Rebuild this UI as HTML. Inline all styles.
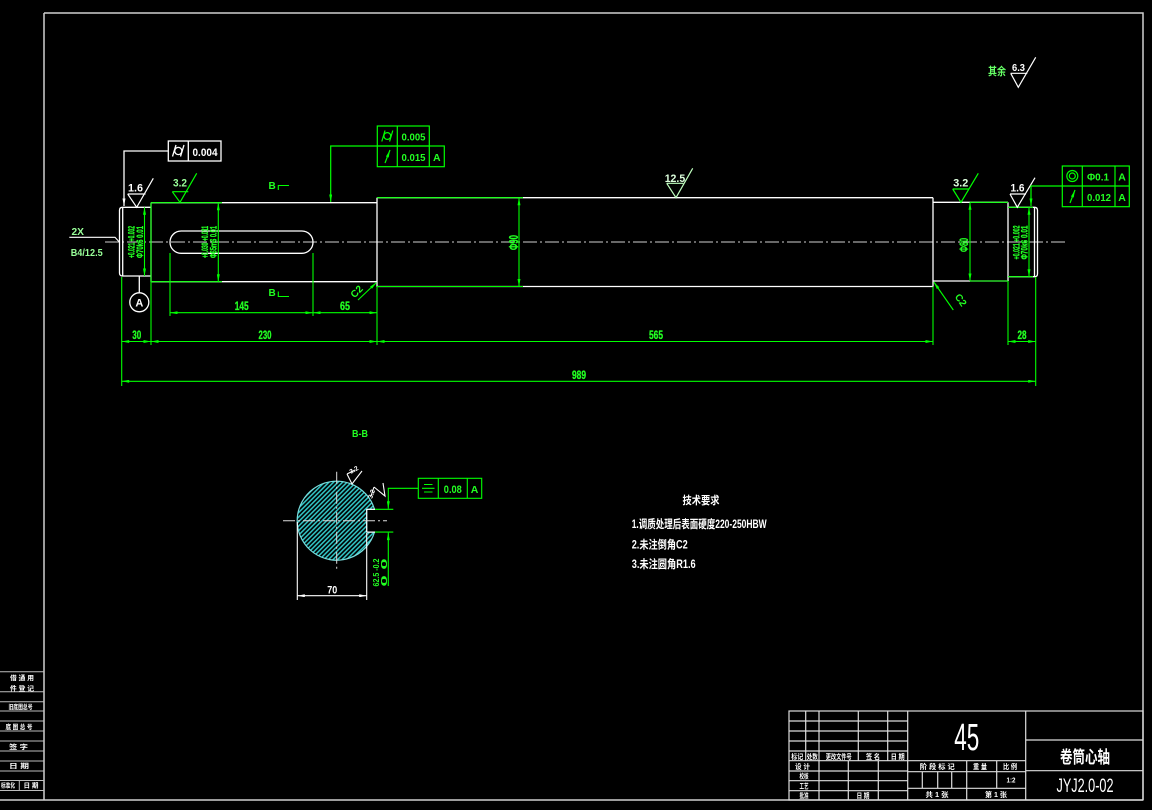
<!DOCTYPE html>
<html><head><meta charset="utf-8">
<style>
html,body{margin:0;padding:0;background:#000;}
svg{display:block;}
text{font-family:"Liberation Sans","Noto Sans CJK SC",sans-serif;}
.s{font-family:"Liberation Serif","Noto Serif CJK SC",serif;}
</style></head><body>
<svg width="1152" height="810" viewBox="0 0 1152 810" xmlns="http://www.w3.org/2000/svg">
<defs>
<marker id="g" viewBox="0 0 10 4" refX="10" refY="2" markerWidth="8" markerHeight="3" orient="auto-start-reverse" markerUnits="userSpaceOnUse"><path d="M0,0L10,2L0,4z" fill="#0f0"/></marker>
<marker id="w" viewBox="0 0 10 4" refX="10" refY="2" markerWidth="8" markerHeight="3" orient="auto-start-reverse" markerUnits="userSpaceOnUse"><path d="M0,0L10,2L0,4z" fill="#fff"/></marker>
<pattern id="h" width="3.2" height="3.2" patternUnits="userSpaceOnUse" patternTransform="rotate(45)"><rect width="3.2" height="3.2" fill="#000"/><line x1="0.8" y1="0" x2="0.8" y2="3.2" stroke="#3cc" stroke-width="1.5"/></pattern>
</defs>
<rect width="1152" height="810" fill="#000"/>

<!-- frame -->
<g stroke="#cfcfcf" stroke-width="1.5" fill="none">
<path d="M44,13H1143V800"/>
<path d="M44,13V800"/>
<path d="M0,800H1143"/>
</g>

<!-- left side table -->
<g stroke="#bdbdbd" stroke-width="1" fill="none">
<path d="M0,671.7H44M0,691.7H44M0,701.7H44M0,711H44M0,721H44M0,731H44M0,741H44M0,751H44M0,761H44M0,771H44M0,780.5H44M0,790.5H44M19.3,780.5V790.5"/>
</g>
<g fill="#fff" font-size="6.5" font-weight="bold" text-anchor="middle">
<text x="22" y="680" textLength="24" lengthAdjust="spacingAndGlyphs">借 通 用</text>
<text x="22" y="690.3" textLength="24" lengthAdjust="spacingAndGlyphs">件 登 记</text>
<text x="20.5" y="709" textLength="24" lengthAdjust="spacingAndGlyphs">旧底图总号</text>
<text x="19" y="729" textLength="27" lengthAdjust="spacingAndGlyphs">底 图 总 号</text>
<text x="18.5" y="749" textLength="19" lengthAdjust="spacingAndGlyphs">签 字</text>
<text x="19" y="768" textLength="20" lengthAdjust="spacingAndGlyphs">日 期</text>
<text x="8" y="787.5" textLength="14" lengthAdjust="spacingAndGlyphs">标准化</text>
<text x="31" y="787.5" textLength="15" lengthAdjust="spacingAndGlyphs">日 期</text>
</g>

<!-- centerline -->
<line x1="105" y1="242" x2="1065" y2="242" stroke="#cfcfcf" stroke-width="1" stroke-dasharray="14 3 2 3"/>

<!-- shaft outline -->
<g stroke="#fff" stroke-width="1.3" fill="none">
<path d="M122.5,207.3Q119.5,207.3 119.5,210.3V273Q119.5,276 122.5,276"/>
<path d="M122.7,207.3V276"/>
<path d="M122.5,207.3H151M122.5,276H151"/>
<path d="M151,202.7V281.7"/>
<path d="M151,202.7H377M151,281.7H377"/>
<path d="M377,197.7V286.5"/>
<path d="M377,197.7H933M377,286.5H933"/>
<path d="M933,197.7V286.5"/>
<path d="M933,202.3H1008M933,281H1008"/>
<path d="M1008,202.3V281"/>
<path d="M1008,207.3H1034.5M1008,276.7H1034.5"/>
<path d="M1034.5,207.3Q1037.5,207.3 1037.5,210.3V273.7Q1037.5,276.7 1034.5,276.7"/>
<path d="M1034.5,207.3V276.7"/>
<rect x="170" y="231" width="143" height="22.3" rx="11.1"/>
</g>

<!-- green overlays / extension lines -->
<g stroke="#0f0" stroke-width="1.1" fill="none">
<path d="M151,202.7H222M151,281.7H222"/>
<path d="M377,197.7H523M377,286.5H523"/>
<path d="M970,202.3H1008M970,281H1008"/>
<path d="M1008,207.3H1033M1008,276.7H1033"/>
<path d="M121.7,277V386M151,202.7V345M377,286.5V345M933,286.5V345M1008,281V345M1035.7,277V386"/>
<path d="M170,253V316M313,253V316"/>
</g>

<!-- vertical dims -->
<g stroke="#0f0" stroke-width="1.1" fill="none">
<line x1="144.5" y1="207.3" x2="144.5" y2="276" marker-start="url(#g)" marker-end="url(#g)"/>
<line x1="218.3" y1="202.7" x2="218.3" y2="281.7" marker-start="url(#g)" marker-end="url(#g)"/>
<line x1="519" y1="197.7" x2="519" y2="286.5" marker-start="url(#g)" marker-end="url(#g)"/>
<line x1="970" y1="202.3" x2="970" y2="281" marker-start="url(#g)" marker-end="url(#g)"/>
<line x1="1029" y1="207.3" x2="1029" y2="276.7" marker-start="url(#g)" marker-end="url(#g)"/>
</g>
<g fill="#2f2" font-weight="bold" text-anchor="middle" stroke="#2f2" stroke-width="0.3">
<text transform="translate(134.5,242) rotate(-90)" font-size="9" textLength="32" lengthAdjust="spacingAndGlyphs">+0.021 +0.002</text>
<text transform="translate(143,242) rotate(-90)" font-size="9.5" textLength="32" lengthAdjust="spacingAndGlyphs">Φ70k6 0.01</text>
<text transform="translate(208,242) rotate(-90)" font-size="9" textLength="32" lengthAdjust="spacingAndGlyphs">+0.030 +0.011</text>
<text transform="translate(216.5,242) rotate(-90)" font-size="9.5" textLength="32" lengthAdjust="spacingAndGlyphs">Φ65m6 0.01</text>
<text transform="translate(518,242.5) rotate(-90)" font-size="13" textLength="15" lengthAdjust="spacingAndGlyphs">Φ90</text>
<text transform="translate(968,245) rotate(-90)" font-size="12" textLength="14" lengthAdjust="spacingAndGlyphs">Φ80</text>
<text transform="translate(1019.5,242.5) rotate(-90)" font-size="9" textLength="34" lengthAdjust="spacingAndGlyphs">+0.021 +0.002</text>
<text transform="translate(1027.5,242.5) rotate(-90)" font-size="9.5" textLength="34" lengthAdjust="spacingAndGlyphs">Φ70k6 0.01</text>
</g>

<!-- horizontal dims -->
<g stroke="#0f0" stroke-width="1.1" fill="none">
<line x1="170" y1="312.7" x2="313" y2="312.7" marker-start="url(#g)" marker-end="url(#g)"/>
<line x1="313" y1="312.7" x2="377" y2="312.7" marker-start="url(#g)" marker-end="url(#g)"/>
<line x1="121.7" y1="341.5" x2="151" y2="341.5" marker-start="url(#g)" marker-end="url(#g)"/>
<line x1="151" y1="341.5" x2="377" y2="341.5" marker-start="url(#g)" marker-end="url(#g)"/>
<line x1="377" y1="341.5" x2="933" y2="341.5" marker-start="url(#g)" marker-end="url(#g)"/>
<line x1="1008" y1="341.5" x2="1035.7" y2="341.5" marker-start="url(#g)" marker-end="url(#g)"/>
<line x1="121.7" y1="381.3" x2="1035.7" y2="381.3" marker-start="url(#g)" marker-end="url(#g)"/>
</g>
<g fill="#2f2" font-weight="bold" text-anchor="middle" font-size="12" stroke="#2f2" stroke-width="0.3">
<text x="241.7" y="310" textLength="14" lengthAdjust="spacingAndGlyphs">145</text>
<text x="345" y="310" textLength="10" lengthAdjust="spacingAndGlyphs">65</text>
<text x="136.7" y="339" textLength="9" lengthAdjust="spacingAndGlyphs">30</text>
<text x="265" y="339" textLength="13" lengthAdjust="spacingAndGlyphs">230</text>
<text x="656" y="339" textLength="14" lengthAdjust="spacingAndGlyphs">565</text>
<text x="1022" y="339" textLength="9" lengthAdjust="spacingAndGlyphs">28</text>
<text x="579" y="379" textLength="14" lengthAdjust="spacingAndGlyphs">989</text>
</g>

<!-- chamfer C2 leaders -->
<g stroke="#0f0" stroke-width="1.1" fill="none">
<line x1="358" y1="300" x2="376.5" y2="282.5" marker-end="url(#g)"/>
<line x1="953.3" y1="310" x2="933.8" y2="282" marker-end="url(#g)"/>
</g>
<g fill="#2f2" font-weight="bold" text-anchor="middle" font-size="10">
<text transform="translate(359,294) rotate(-45)">C2</text>
<text transform="translate(958,302) rotate(55)">C2</text>
</g>

<!-- section marks B -->
<g fill="#2f2" font-size="10" font-weight="bold">
<text x="268.5" y="189">B</text>
<text x="268.5" y="296">B</text>
</g>
<g stroke="#0f0" stroke-width="1.1" fill="none">
<path d="M278.3,190V185.5H289"/>
<path d="M278.3,291.5V296.5H289"/>
</g>

<!-- 2X B4/12.5 -->
<g fill="#9f9" font-size="10" font-weight="bold">
<text x="71.5" y="235" textLength="12.5" lengthAdjust="spacingAndGlyphs">2X</text>
<text x="70.7" y="256" textLength="32" lengthAdjust="spacingAndGlyphs">B4/12.5</text>
</g>
<path d="M69.3,237.3H115L119.3,242" stroke="#fff" stroke-width="1.1" fill="none"/>

<!-- datum A -->
<g stroke="#fff" stroke-width="1.3" fill="none">
<line x1="139.3" y1="276" x2="139.3" y2="292.8"/>
<circle cx="139.3" cy="302.3" r="9.5"/>
</g>
<text x="139.3" y="306.5" fill="#fff" font-size="11" font-weight="bold" text-anchor="middle">A</text>

<!-- roughness symbols -->
<g stroke="#fff" stroke-width="1.2" fill="none">
<path d="M127.7,194H145.5M127.7,194L136.7,207.3L153.3,178.3"/>
<path d="M1010,194H1026M1010,194L1017.3,207.3L1035,177.7"/>
<path d="M1010.7,73.3H1027.3M1010.7,73.3L1018.3,87.3L1035.7,57.3"/>
</g>
<g stroke="#0f0" stroke-width="1.2" fill="none">
<path d="M172.3,191.7H188.3M172.3,191.7L180,202.3L196.7,173.3"/>
<path d="M952.7,189H969M952.7,189L961,202.3L978.3,173.3"/>
</g>
<g stroke="#bfffbf" stroke-width="1.2" fill="none">
<path d="M666.7,183.3H683.3M666.7,183.3L676,197.7L692.7,168.3"/>
</g>
<g font-size="11" font-weight="bold">
<text x="128" y="191.5" fill="#fff" textLength="15" lengthAdjust="spacingAndGlyphs">1.6</text>
<text x="173" y="186.5" fill="#9f9" textLength="14" lengthAdjust="spacingAndGlyphs">3.2</text>
<text x="664.7" y="182" fill="#dfd" textLength="20.5" lengthAdjust="spacingAndGlyphs">12.5</text>
<text x="953.3" y="186.5" fill="#dfd" textLength="15" lengthAdjust="spacingAndGlyphs">3.2</text>
<text x="1010.5" y="191.5" fill="#fff" textLength="14" lengthAdjust="spacingAndGlyphs">1.6</text>
<text x="1012" y="71" fill="#fff" font-size="10" textLength="13" lengthAdjust="spacingAndGlyphs">6.3</text>
<text x="988" y="75" fill="#6f6" font-size="11" textLength="18" lengthAdjust="spacingAndGlyphs">其余</text>
</g>

<!-- GD&T frame 1 (white) -->
<g stroke="#fff" stroke-width="1.3" fill="none">
<rect x="168.3" y="141" width="52.7" height="20"/>
<line x1="188.3" y1="141" x2="188.3" y2="161"/>
<circle cx="178.3" cy="151" r="3.6"/>
<path d="M172.5,156.5L176,145M180.5,156.5L184,145"/>
<path d="M168.3,151H124V206" marker-end="url(#w)"/>
</g>
<text x="192.5" y="155.8" fill="#fff" font-size="11" font-weight="bold" textLength="25" lengthAdjust="spacingAndGlyphs">0.004</text>

<!-- GD&T frame 2 (green) -->
<g stroke="#0f0" stroke-width="1.2" fill="none">
<rect x="377.3" y="126" width="52" height="20"/>
<rect x="377.3" y="146" width="67" height="20.7"/>
<line x1="397.3" y1="126" x2="397.3" y2="166.7"/>
<line x1="429.3" y1="146" x2="429.3" y2="166.7"/>
<circle cx="387.3" cy="136" r="3.4"/>
<path d="M381.8,141.5L385,130.5M389.6,141.5L392.8,130.5"/>
<line x1="385" y1="163" x2="390" y2="150" marker-end="url(#g)"/>
<path d="M377.3,146H330.7V202" marker-end="url(#g)"/>
</g>
<g fill="#2f2" font-size="10.5" font-weight="bold">
<text x="401.5" y="140.5" textLength="24" lengthAdjust="spacingAndGlyphs">0.005</text>
<text x="401.5" y="161" textLength="24" lengthAdjust="spacingAndGlyphs">0.015</text>
<text x="436.8" y="161" text-anchor="middle">A</text>
</g>

<!-- GD&T frame 3 (green, right) -->
<g stroke="#0f0" stroke-width="1.2" fill="none">
<rect x="1062.3" y="166" width="67" height="40.7"/>
<line x1="1062.3" y1="186" x2="1129.3" y2="186"/>
<line x1="1082.3" y1="166" x2="1082.3" y2="206.7"/>
<line x1="1115" y1="166" x2="1115" y2="206.7"/>
<circle cx="1072.3" cy="176" r="5.5"/>
<circle cx="1072.3" cy="176" r="3"/>
<line x1="1070" y1="203" x2="1075" y2="190" marker-end="url(#g)"/>
<path d="M1062.3,186H1031V206" marker-end="url(#g)"/>
</g>
<g fill="#2f2" font-size="10.5" font-weight="bold">
<text x="1087" y="180.5" textLength="22" lengthAdjust="spacingAndGlyphs">Φ0.1</text>
<text x="1087" y="201" textLength="24" lengthAdjust="spacingAndGlyphs">0.012</text>
<text x="1122" y="180.5" text-anchor="middle">A</text>
<text x="1122" y="201" text-anchor="middle">A</text>
</g>

<!-- Section B-B -->
<text x="360" y="437" fill="#2f2" font-size="10" font-weight="bold" text-anchor="middle" textLength="16" lengthAdjust="spacingAndGlyphs">B-B</text>
<path d="M366.7,509.3L374.5,509.3A39.5,39.5 0 1 0 374.5,532.1L366.7,532.1Z" fill="url(#h)" stroke="#7dd" stroke-width="1.2"/>
<g stroke="#fff" stroke-width="1.1" fill="none">
<path d="M366.7,509.3H375M366.7,532.1H375M366.7,509.3V532.1"/>
</g>
<g stroke="#ddd" stroke-width="1" fill="none" stroke-dasharray="12 3 2 3">
<line x1="283" y1="520.7" x2="387" y2="520.7"/>
<line x1="336.7" y1="471.7" x2="336.7" y2="570"/>
</g>
<!-- 70 dim -->
<g stroke="#fff" stroke-width="1.1" fill="none">
<line x1="297.3" y1="522" x2="297.3" y2="600"/>
<line x1="366.7" y1="533" x2="366.7" y2="600"/>
<line x1="297.3" y1="595.7" x2="366.7" y2="595.7" marker-start="url(#w)" marker-end="url(#w)"/>
</g>
<text x="332.3" y="593.5" fill="#fff" font-size="11" font-weight="bold" text-anchor="middle" textLength="10" lengthAdjust="spacingAndGlyphs">70</text>
<!-- keyway depth dim -->
<g stroke="#0f0" stroke-width="1.1" fill="none">
<path d="M375,509.3H393.3M375,532.1H393.3"/>
<line x1="388.3" y1="586" x2="388.3" y2="532.6" marker-end="url(#g)"/>
<path d="M418.3,488.3H388.3V508.8" marker-end="url(#g)"/>
<rect x="418.3" y="478.3" width="63.4" height="20"/>
<line x1="438.3" y1="478.3" x2="438.3" y2="498.3"/>
<line x1="467.3" y1="478.3" x2="467.3" y2="498.3"/>
<path d="M424,484.5H432.5M422,488.3H434.5M424,492H432.5"/>
</g>
<g fill="#2f2" font-weight="bold">
<text x="452.8" y="492.8" font-size="11" text-anchor="middle" textLength="18" lengthAdjust="spacingAndGlyphs">0.08</text>
<text x="474.5" y="492.8" font-size="10.5" text-anchor="middle">A</text>
<text transform="translate(379,572.5) rotate(-90)" font-size="8.5" text-anchor="middle" textLength="28" lengthAdjust="spacingAndGlyphs">62.5 -0.2</text>
<text transform="translate(387,572.5) rotate(-90)" font-size="8.5" text-anchor="middle" textLength="28" lengthAdjust="spacingAndGlyphs">0 0</text>
</g>
<!-- small roughness in section -->
<g stroke="#fff" stroke-width="1.1" fill="none">
<path d="M347,474L352,484L362,471M347,474L355,470"/>
<path d="M374,487L385,496L383,483M374,487L371,496"/>
</g>
<g fill="#fff" font-size="6.5" font-weight="bold">
<text transform="translate(351,474) rotate(-30)">3.2</text>
<text transform="translate(372,499) rotate(-70)">3.2</text>
</g>

<!-- Technical requirements -->
<g fill="#fff" font-weight="bold" class="s">
<text x="701" y="504" font-size="11" text-anchor="middle" textLength="37" lengthAdjust="spacingAndGlyphs">技术要求</text>
<text x="631.7" y="527.8" font-size="11.5" textLength="135" lengthAdjust="spacingAndGlyphs">1.调质处理后表面硬度220-250HBW</text>
<text x="631.7" y="548.3" font-size="11.5" textLength="56" lengthAdjust="spacingAndGlyphs">2.未注倒角C2</text>
<text x="631.7" y="567.8" font-size="11.5" textLength="64" lengthAdjust="spacingAndGlyphs">3.未注圆角R1.6</text>
</g>

<!-- Title block -->
<g stroke="#ddd" stroke-width="1.2" fill="none">
<rect x="789" y="711" width="354" height="89"/>
<path d="M907.7,711V800M1025.7,711V800"/>
<path d="M789,721H907.7M789,731H907.7M789,741H907.7M789,751H907.7M789,760.7H907.7M789,771H907.7M789,780.7H907.7M789,790.7H907.7"/>
<path d="M805.7,711V760.7M819,711V800M858.3,711V760.7M887.7,711V760.7"/>
<path d="M848.3,760.7V800M878.3,760.7V800"/>
<path d="M907.7,760.7H1025.7M907.7,771.7H1025.7M907.7,788.3H1025.7"/>
<path d="M966.7,760.7V800M996.7,760.7V788.3M922.3,771.7V788.3M937.7,771.7V788.3M951.7,771.7V788.3"/>
<path d="M1025.7,740H1143M1025.7,770.7H1143"/>
</g>
<g fill="#fff" font-size="7" font-weight="bold" text-anchor="middle">
<text x="797.3" y="758.8" textLength="12" lengthAdjust="spacingAndGlyphs">标记</text>
<text x="812.3" y="758.8" textLength="11" lengthAdjust="spacingAndGlyphs">处数</text>
<text x="838.7" y="758.8" textLength="26" lengthAdjust="spacingAndGlyphs">更改文件号</text>
<text x="873" y="758.8" textLength="14" lengthAdjust="spacingAndGlyphs">签 名</text>
<text x="897.7" y="758.8" textLength="14" lengthAdjust="spacingAndGlyphs">日 期</text>
<text x="802.5" y="769" textLength="15" lengthAdjust="spacingAndGlyphs">设 计</text>
<text x="804" y="778.5" textLength="9" lengthAdjust="spacingAndGlyphs">校核</text>
<text x="804" y="788.5" textLength="9" lengthAdjust="spacingAndGlyphs">工艺</text>
<text x="804" y="798" textLength="9" lengthAdjust="spacingAndGlyphs">批准</text>
<text x="863" y="798" textLength="13" lengthAdjust="spacingAndGlyphs">日 期</text>
<text x="937.3" y="769" textLength="35" lengthAdjust="spacingAndGlyphs">阶 段 标 记</text>
<text x="980" y="769" textLength="14" lengthAdjust="spacingAndGlyphs">重 量</text>
<text x="1010" y="769" textLength="14" lengthAdjust="spacingAndGlyphs">比 例</text>
<text x="1011" y="782.5" textLength="9" lengthAdjust="spacingAndGlyphs">1:2</text>
<text x="937" y="797" textLength="23" lengthAdjust="spacingAndGlyphs">共 1 张</text>
<text x="996" y="797" textLength="22" lengthAdjust="spacingAndGlyphs">第 1 张</text>
</g>
<g fill="#fff" class="s" text-anchor="middle">
<text x="966.7" y="750" font-size="38" textLength="25" lengthAdjust="spacingAndGlyphs">45</text>
<text x="1085" y="763" font-size="17" font-weight="bold" textLength="50" lengthAdjust="spacingAndGlyphs">卷筒心轴</text>
<text x="1085" y="792" font-size="19" textLength="57" lengthAdjust="spacingAndGlyphs">JYJ2.0-02</text>
</g>
</svg>
</body></html>
